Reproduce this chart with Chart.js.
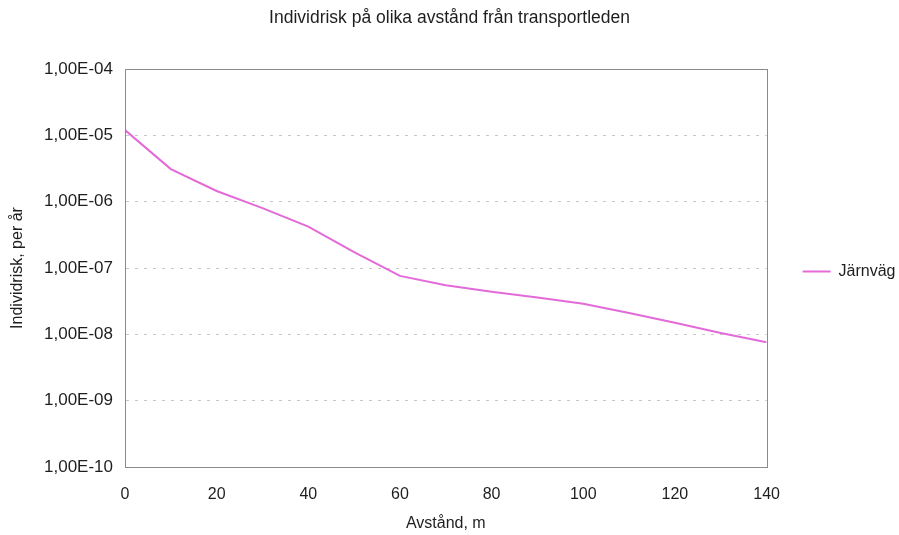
<!DOCTYPE html>
<html>
<head>
<meta charset="utf-8">
<script src="https://cdn.jsdelivr.net/npm/chart.js@4/dist/chart.umd.min.js"></script>
<style>
  html, body { margin: 0; padding: 0; background: #fff; }
  #wrap { width: 899px; height: 535px; }
</style>
</head>
<body>
<div id="wrap"><canvas id="c" width="899" height="535"></canvas></div>
<script>
// Distance from the transport route (m) and individual risk per year
const distances = [0, 10, 20, 30, 40, 50, 60, 70, 80, 90, 100, 110, 120, 130, 140];
const riskRail = [1.2e-5, 3.1e-6, 1.45e-6, 8.0e-7, 4.2e-7, 1.73e-7, 7.6e-8, 5.5e-8, 4.4e-8, 3.6e-8, 2.9e-8, 2.1e-8, 1.5e-8, 1.05e-8, 7.6e-9];
const seriesName = 'Järnväg';
const yTicks = [1e-10, 1e-9, 1e-8, 1e-7, 1e-6, 1e-5, 1e-4];
const xTicks = [0, 20, 40, 60, 80, 100, 120, 140];

const FONT = "'Liberation Sans', Arial, sans-serif";
const TEXT = '#1e1e1e';
const FRAME = '#8a8a8a';

// "1,00E-04" style labels
function sciLabel(v) {
  const e = Math.round(Math.log10(v));
  const sign = e < 0 ? '-' : '+';
  const a = Math.abs(e);
  return '1,00E' + sign + (a < 10 ? '0' + a : String(a));
}

// Move the legend a little away from the plot frame
const legendOffset = {
  id: 'legendOffset',
  afterLayout(chart) {
    const l = chart.legend;
    if (l) { l.left += 6.5; l.right += 6.5; l.top += 4; l.bottom += 4; }
  }
};

// Solid frame round the plot area
const plotFrame = {
  id: 'plotFrame',
  afterDatasetsDraw(chart) {
    const { ctx, chartArea: a } = chart;
    ctx.save();
    ctx.strokeStyle = FRAME;
    ctx.lineWidth = 1;
    ctx.setLineDash([]);
    ctx.strokeRect(Math.round(a.left) + 0.5, Math.round(a.top) + 0.5,
                   Math.round(a.right - a.left), Math.round(a.bottom - a.top));
    ctx.restore();
  }
};

new Chart(document.getElementById('c'), {
  type: 'line',
  data: {
    datasets: [{
      label: seriesName,
      data: distances.map((d, i) => ({ x: d, y: riskRail[i] })),
      borderColor: '#e36ad8',
      backgroundColor: '#e36ad8',
      borderWidth: 2,
      pointRadius: 0,
      tension: 0,
      fill: false
    }]
  },
  options: {
    responsive: false,
    animation: false,
    layout: { padding: 0 },
    plugins: {
      title: {
        display: true,
        text: 'Individrisk på olika avstånd från transportleden',
        color: TEXT,
        font: { family: FONT, size: 17.5, weight: 'normal' },
        padding: { top: 8, bottom: 40 }
      },
      legend: {
        position: 'right',
        labels: {
          color: TEXT,
          font: { family: FONT, size: 16 },
          usePointStyle: true,
          pointStyle: 'line',
          pointStyleWidth: 28,
          padding: 29.5
        }
      },
      tooltip: { enabled: false }
    },
    scales: {
      x: {
        type: 'linear',
        min: 0,
        max: 140,
        afterBuildTicks(scale) { scale.ticks = xTicks.map(v => ({ value: v })); },
        afterFit(scale) { scale.height = 68; },
        ticks: {
          color: TEXT,
          font: { family: FONT, size: 16 },
          padding: 18,
          maxRotation: 0
        },
        grid: { display: false, drawTicks: false },
        border: { color: FRAME, width: 1 },
        title: {
          display: true,
          text: 'Avstånd, m',
          color: TEXT,
          font: { family: FONT, size: 16 },
          padding: { top: 0, bottom: 2 }
        }
      },
      y: {
        type: 'logarithmic',
        min: 1e-10,
        max: 1e-4,
        afterBuildTicks(scale) { scale.ticks = yTicks.map(v => ({ value: v, major: true })); },
        afterFit(scale) { scale.width = 125; },
        ticks: {
          color: TEXT,
          font: { family: FONT, size: 17 },
          padding: 12,
          callback: v => sciLabel(v)
        },
        grid: {
          drawTicks: false,
          color: '#c8c8c8',
          lineWidth: 1
        },
        border: { color: FRAME, width: 1, dash: [3, 6] },
        title: {
          display: true,
          text: 'Individrisk, per år',
          color: TEXT,
          font: { family: FONT, size: 16 },
          padding: { top: 8, bottom: 0 }
        }
      }
    }
  },
  plugins: [legendOffset, plotFrame]
});
</script>
</body>
</html>
